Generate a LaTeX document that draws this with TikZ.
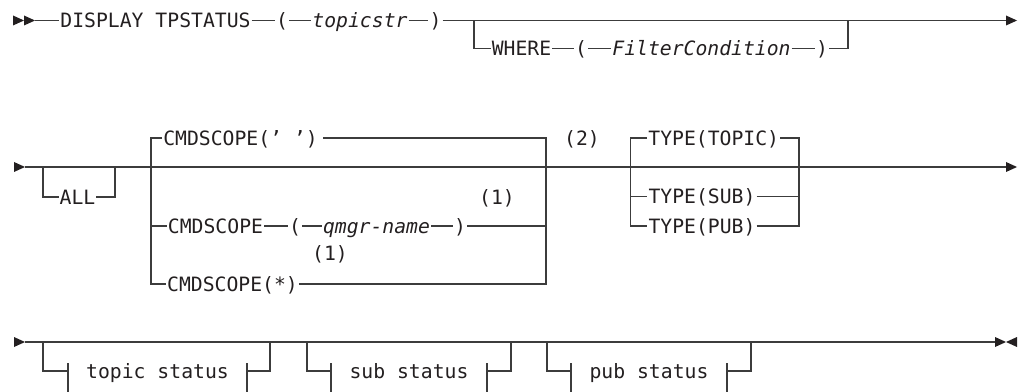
\documentclass[tikz,border=0pt]{standalone}
\usepackage{fontspec}
\setmonofont{DejaVu Sans Mono}
\usepackage{tikz}
\definecolor{rrInk}{HTML}{231F20}
\definecolor{rrLine}{HTML}{3C3C3C}
\tikzset{
  rr diagram/.style={font=\ttfamily\fontsize{14.8}{17}\selectfont, text=rrInk},
  rr word/.style={inner xsep=0.6pt, inner ysep=0pt, text height=10.8pt, text depth=0pt},
  rr var/.style={rr word, font=\ttfamily\itshape\fontsize{14.8}{17}\selectfont},
  rr note/.style={rr word},
  rr line/.style={draw=rrLine, line width=0.9pt},
  pics/rr head/.style={code={\fill[rrInk] (-11,-5) -- (0,0) -- (-11,5) -- cycle;}}
}

\begin{document}
\begin{tikzpicture}[rr diagram,x=0.75pt,y=-0.75pt]
\useasboundingbox (0,0) rectangle (1022,392);
% first line
\pic at (24,20.5) {rr head};
\pic at (35,20.5) {rr head};
\coordinate (s1) at (35,20.5);
\node[rr word] (disp) at (155.5,20.5) {DISPLAY TPSTATUS};
\node[rr word] (lp1) at (282,20.5) {(};
\node[rr var] (tstr) at (360,20.5) {topicstr};
\node[rr word] (rp1) at (435.5,20.5) {)};
\coordinate (w1) at (474,20.5);
\coordinate (w2) at (848,20.5);
\coordinate (e1) at (1006,20.5);
\node[rr word] (where) at (521.5,48.5) {WHERE};
\node[rr word] (lp2) at (581,48.5) {(};
\node[rr var] (filt) at (701.5,48.5) {FilterCondition};
\node[rr word] (rp2) at (822,48.5) {)};
\draw[rr line] (s1) -- (disp) -- (lp1) -- (tstr) -- (rp1) -- (e1);
\draw[rr line] (w1) |- (where) -- (lp2) -- (filt) -- (rp2) -| (w2);
\pic at (1017,20.5) {rr head};

% second line
\pic at (25,167) {rr head};
\coordinate (s2) at (25,167);
\coordinate (e2) at (1006,167);
\coordinate (a1) at (43,167);
\coordinate (a2) at (115,167);
\node[rr word] (all) at (77.5,197) {ALL};
\coordinate (c1) at (151,167);
\coordinate (c2) at (546,167);
\node[rr word] (csq) at (240.5,138) {CMDSCOPE(’ ’)};
\coordinate (csqe) at (323,138);
\node[rr word] (cq) at (215.5,226) {CMDSCOPE};
\node[rr word] (lp3) at (295,226) {(};
\node[rr var] (qn) at (376.5,226) {qmgr-name};
\node[rr word] (rp3) at (460,226) {)};
\node[rr word] (cst) at (232.5,284) {CMDSCOPE(*)};
\node[rr note] (n1a) at (497,197) {(1)};
\node[rr note] (n1b) at (330,253) {(1)};
\node[rr note] (n2) at (582,138) {(2)};
\coordinate (t1) at (630.5,167);
\coordinate (t2) at (799,167);
\node[rr word] (tt) at (713.75,138) {TYPE(TOPIC)};
\node[rr word] (ts) at (702,196.5) {TYPE(SUB)};
\node[rr word] (tp) at (702,226) {TYPE(PUB)};
\draw[rr line] (s2) -- (e2);
\draw[rr line] (a1) |- (all) -| (a2);
\draw[rr line] (c1) |- (csq) (csqe) -| (c2);
\draw[rr line] (c1) |- (cq) -- (lp3) -- (qn) -- (rp3) -| (c2);
\draw[rr line] (c1) |- (cst) -| (c2);
\draw[rr line] (t1) |- (tt) -| (t2);
\draw[rr line] (t1) |- (ts) -| (t2);
\draw[rr line] (t1) |- (tp) -| (t2);
\pic at (1017,167) {rr head};

% third line
\pic at (25,342) {rr head};
\coordinate (s3) at (25,342);
\coordinate (e3) at (995,342);
\draw[rr line] (s3) -- (e3);
\foreach \nm/\xa/\xb/\xc/\xd/\txt in {ftop/43/68/247/270/topic status,
    fsub/307/331/487/511/sub status, fpub/547/571/727/751/pub status}{
  \node[rr word] (\nm) at ({(\xb+\xc)/2},371) {\txt};
  \coordinate (\nm a) at (\xa,342);
  \coordinate (\nm b) at (\xb,371);
  \coordinate (\nm c) at (\xc,371);
  \coordinate (\nm d) at (\xd,342);
  \draw[rr line] (\nm a) |- (\nm b) (\nm c) -| (\nm d);
  \draw[rr line] (\xb,363) -- (\xb,392) (\xc,363) -- (\xc,392);
}
\pic at (1006,342) {rr head};
\pic[xscale=-1] at (1006,342) {rr head};
\end{tikzpicture}
\end{document}
